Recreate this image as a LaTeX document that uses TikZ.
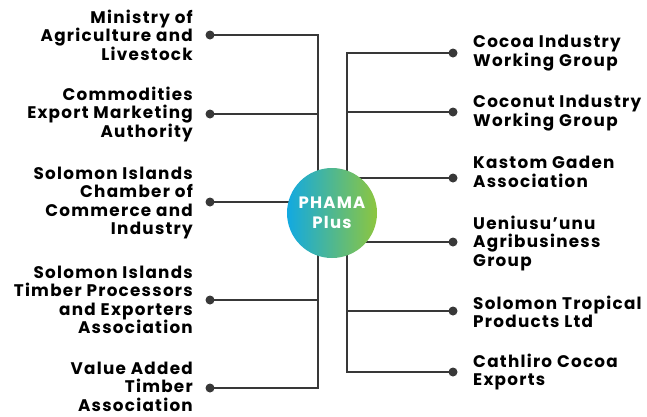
\documentclass[tikz,border=0pt]{standalone}
\usepackage{fontspec}
\setmainfont{Poppins}[LetterSpace=7.5]
\usetikzlibrary{backgrounds}

\definecolor{linegray}{HTML}{383838}
\definecolor{hubblue}{HTML}{12A9E1}
\definecolor{hubteal}{HTML}{00B39D}
\definecolor{hubgreen}{HTML}{8DC63F}

\tikzset{
    dot/.style={circle, fill=linegray, inner sep=0pt, minimum size=9pt},
    link/.style={draw=linegray, line width=2pt},
    lefttext/.style={anchor=east, align=right, inner sep=0pt,
        font=\bfseries\fontsize{16.8}{18.5}\selectfont},
    righttext/.style={anchor=west, align=left, inner sep=0pt,
        font=\bfseries\fontsize{16.8}{18.5}\selectfont},
    hub/.style={circle, minimum size=90pt, inner sep=0pt, align=center,
        left color=hubblue, middle color=hubteal, right color=hubgreen,
        text=white, font=\bfseries\fontsize{16.5}{19.5}\selectfont},
}

\begin{document}
\begin{tikzpicture}[x=1pt, y=-1pt]
    \useasboundingbox (0,0) rectangle (647,416);

    \node[hub] (phama) at (332,213) {PHAMA\\Plus};

    % left partners
    \node[dot] (dminist) at (210,35) {};
    \node[dot] (dcomm)   at (210,114) {};
    \node[dot] (dchamb)  at (210,202) {};
    \node[dot] (dtimb)   at (210,300) {};
    \node[dot] (dvalue)  at (210,388) {};
    \node[lefttext] (minist) at (193,35)  {Ministry of\\Agriculture and\\Livestock};
    \node[lefttext] (comm)   at (193,114) {Commodities\\Export Marketing\\Authority};
    \node[lefttext] (chamb)  at (193,203) {Solomon Islands\\Chamber of\\Commerce and\\Industry};
    \node[lefttext] (timb)   at (193,300) {Solomon Islands\\Timber Processors\\and Exporters\\Association};
    \node[lefttext] (value)  at (193,386.5) {Value Added\\Timber\\Association};

    % right partners
    \node[dot] (dcocoa)  at (453,53) {};
    \node[dot] (dcocon)  at (453,112) {};
    \node[dot] (dkastom) at (453,178) {};
    \node[dot] (duen)    at (453,242) {};
    \node[dot] (dtrop)   at (453,311) {};
    \node[dot] (dcath)   at (453,372) {};
    \node[righttext] (cocoa)  at (473,53)  {Cocoa Industry\\Working Group};
    \node[righttext] (cocon)  at (473,113) {Coconut Industry\\Working Group};
    \node[righttext] (kastom) at (473,172) {Kastom Gaden\\Association};
    \node[righttext] (uen)    at (473,243) {Ueniusu’unu\\Agribusiness\\Group};
    \node[righttext] (trop)   at (473,312) {Solomon Tropical\\Products Ltd};
    \node[righttext] (cath)   at (473,372) {Cathliro Cocoa\\Exports};

    \coordinate (lbus) at (318,0);
    \coordinate (rbus) at (347,0);

    \begin{scope}[on background layer]
        \draw[link] (dminist.center) -- (dminist -| lbus) -- (dvalue -| lbus)
            -- (dvalue.center);
        \foreach \d in {dcomm, dchamb, dtimb}
            \draw[link] (\d.center) -- (\d -| lbus);
        \draw[link] (dcocoa.center) -- (dcocoa -| rbus) -- (dcath -| rbus)
            -- (dcath.center);
        \foreach \d in {dcocon, dkastom, duen, dtrop}
            \draw[link] (\d.center) -- (\d -| rbus);
    \end{scope}
\end{tikzpicture}
\end{document}
